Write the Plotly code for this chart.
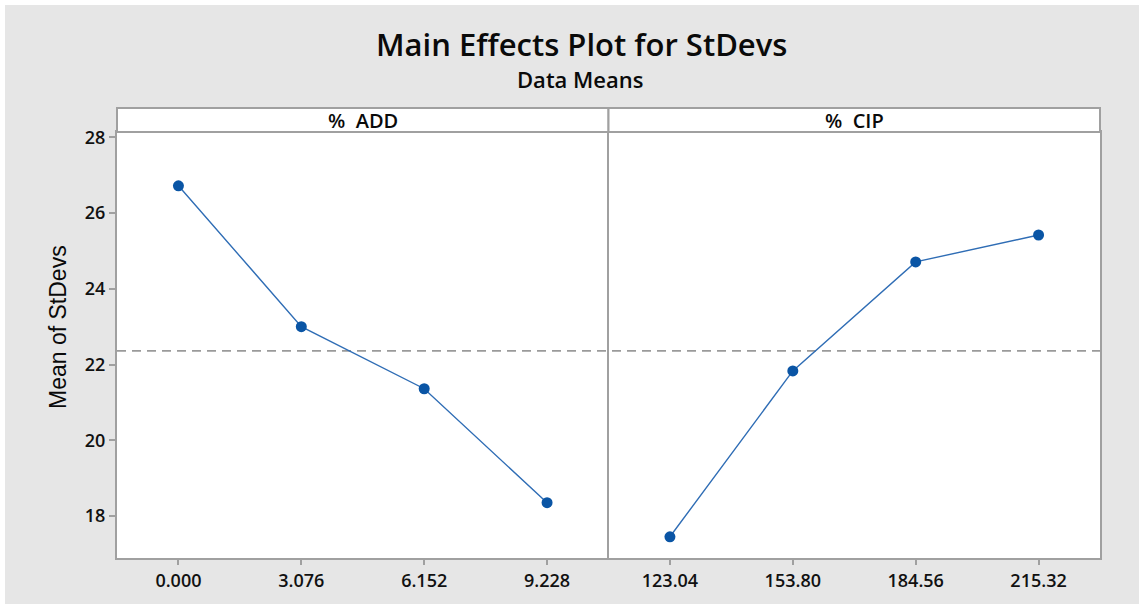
import numpy as np
import plotly.graph_objects as go

# Factor levels and the mean of StDevs at each level
add_levels = ["0.000", "3.076", "6.152", "9.228"]
add_means = [26.72, 23.00, 21.36, 18.35]

cip_levels = ["123.04", "153.80", "184.56", "215.32"]
cip_means = [17.45, 21.83, 24.71, 25.42]

y_ticks = [18, 20, 22, 24, 26, 28]

grand_mean = float(np.mean(add_means))

W, H = 1144, 609
ML, MR, MT, MB = 117, 44, 132, 51
PW, PH = W - ML - MR, H - MT - MB

AXIS_GRAY = "#A0A0A0"
LINE_BLUE = "#2F6DB5"
MARK_BLUE = "#0A55A5"
FONT = "Open Sans"


def px_x(px):
    return (px - ML) / PW


def px_y(py):
    return 1 - (py - MT) / PH


fig = go.Figure()

for levels, means, xa, ya in [(add_levels, add_means, "x", "y"),
                              (cip_levels, cip_means, "x2", "y2")]:
    fig.add_trace(go.Scatter(
        x=levels, y=means, xaxis=xa, yaxis=ya,
        mode="lines+markers",
        line=dict(color=LINE_BLUE, width=1.4),
        marker=dict(color=MARK_BLUE, size=11, symbol="circle"),
        showlegend=False, hoverinfo="x+y",
    ))

tick_font = dict(family=FONT, size=18, color="#111111", weight=600)
base = dict(showline=True, linecolor=AXIS_GRAY, linewidth=2,
            showgrid=False, zeroline=False, tickfont=tick_font)
x_common = dict(base, mirror=True, ticks="outside", ticklen=5,
                tickwidth=1.5, tickcolor=AXIS_GRAY)

y_range = [16.89, 28.14]

fig.update_layout(
    width=W, height=H,
    margin=dict(l=ML, r=MR, t=MT, b=MB, pad=0),
    paper_bgcolor="#E6E6E6",
    plot_bgcolor="white",
    xaxis=dict(domain=[0, 0.5], type="category", range=[-0.5, 3.5],
               anchor="y", **x_common),
    xaxis2=dict(domain=[0.5, 1], type="category", range=[-0.5, 3.5],
                anchor="y2", **x_common),
    yaxis=dict(range=y_range, tickvals=y_ticks, anchor="x", mirror=False,
               ticks="outside", ticklen=6, tickwidth=1.5,
               tickcolor=AXIS_GRAY, **base),
    yaxis2=dict(range=y_range, tickvals=y_ticks, anchor="x2", mirror=True,
                showticklabels=False, ticks="", **base),
)

shapes = []
# white outer rim around the grey panel
shapes.append(dict(type="rect", xref="paper", yref="paper",
                   x0=px_x(0), x1=px_x(W), y0=px_y(H), y1=px_y(0),
                   line=dict(color="white", width=10), fillcolor="rgba(0,0,0,0)",
                   layer="above"))
# reference line at the grand mean, spanning both panels
shapes.append(dict(type="line", xref="paper", yref="y",
                   x0=0, x1=1, y0=grand_mean, y1=grand_mean,
                   line=dict(color="#9A9A9A", width=1.8, dash="9px,6px"),
                   layer="below"))
# facet header strips
strip_top = px_y(108)
for x0, x1 in [(0, 0.5), (0.5, 1)]:
    shapes.append(dict(type="rect", xref="paper", yref="paper",
                       x0=x0, x1=x1, y0=1, y1=strip_top,
                       fillcolor="white", line=dict(color=AXIS_GRAY, width=2),
                       layer="above"))
fig.update_layout(shapes=shapes)

annotations = [
    dict(text="Main Effects Plot for StDevs", x=px_x(581), y=px_y(44),
         font=dict(family=FONT, size=31, color="#0A0A0A", weight=600)),
    dict(text="Data Means", x=px_x(580), y=px_y(79),
         font=dict(family=FONT, size=22, color="#0A0A0A", weight=600)),
    dict(text="%  ADD", x=0.25, y=px_y(120),
         font=dict(family=FONT, size=20, color="#0A0A0A", weight=600)),
    dict(text="%  CIP", x=0.75, y=px_y(120),
         font=dict(family=FONT, size=20, color="#0A0A0A", weight=600)),
    dict(text="Mean of StDevs", x=px_x(58), y=px_y(327), textangle=-90,
         font=dict(family="Liberation Sans", size=23, color="#0A0A0A")),
]
for a in annotations:
    a.update(xref="paper", yref="paper", showarrow=False,
             xanchor="center", yanchor="middle")
fig.update_layout(annotations=annotations)

fig.write_html("out.html")
